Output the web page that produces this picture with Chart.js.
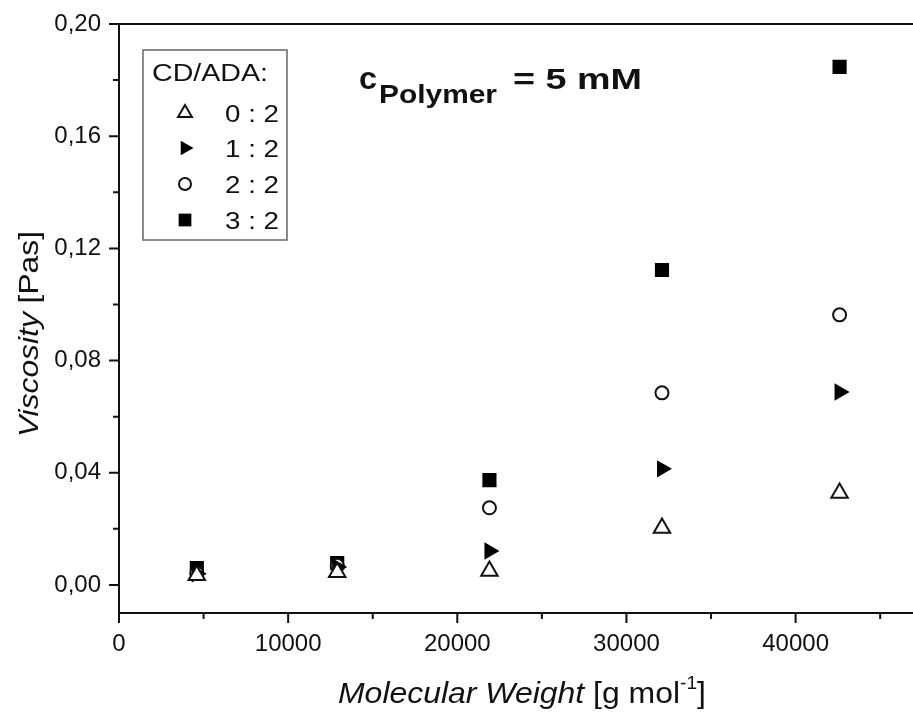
<!DOCTYPE html>
<html>
<head>
<meta charset="utf-8">
<script src="https://cdn.jsdelivr.net/npm/chart.js@4.4.1/dist/chart.umd.min.js"></script>
<style>
  html, body { margin: 0; padding: 0; background: #fff; }
  #wrap { width: 913px; height: 714px; }
</style>
</head>
<body>
<div id="wrap"><canvas id="chart" width="913" height="714"></canvas></div>
<script>
// values
const molWeight = [4600, 12900, 21900, 32100, 42600];
const visc02 = [0.0035, 0.0045, 0.0050, 0.0203, 0.0328];
const visc12 = [0.0040, 0.0064, 0.0121, 0.0414, 0.0688];
const visc22 = [0.0042, 0.0070, 0.0275, 0.0685, 0.0963];
const visc32 = [0.0060, 0.0078, 0.0374, 0.1123, 0.1847];
const seriesLabels = ["0 : 2", "1 : 2", "2 : 2", "3 : 2"];

const xTicks = [0, 10000, 20000, 30000, 40000];
const xMinorTicks = [5000, 15000, 25000, 35000, 45000];
const yTicks = [0, 0.04, 0.08, 0.12, 0.16, 0.2];
const yMinorTicks = [0.02, 0.06, 0.1, 0.14, 0.18];

const FONT = "'Liberation Sans', Arial, sans-serif";
const INK = "#111";

function toPoints(ys) {
  return molWeight.map((x, i) => ({ x: x, y: ys[i] }));
}

// marker shapes, same geometry as chart.js uses
function marker(ctx, style, x, y, r) {
  ctx.save();
  ctx.lineWidth = 2;
  ctx.strokeStyle = INK;
  ctx.beginPath();
  if (style === "openTri") {
    for (let k = 0; k < 3; k++) {
      const a = k * 2 * Math.PI / 3;
      const px = x + Math.sin(a) * r, py = y - Math.cos(a) * r;
      k ? ctx.lineTo(px, py) : ctx.moveTo(px, py);
    }
    ctx.closePath();
    ctx.fillStyle = "#fff"; ctx.fill(); ctx.stroke();
  } else if (style === "rightTri") {
    for (let k = 0; k < 3; k++) {
      const a = Math.PI / 2 + k * 2 * Math.PI / 3;
      const px = x + Math.sin(a) * r, py = y - Math.cos(a) * r;
      k ? ctx.lineTo(px, py) : ctx.moveTo(px, py);
    }
    ctx.closePath();
    ctx.fillStyle = "#000"; ctx.fill();
  } else if (style === "circle") {
    ctx.arc(x, y, r, 0, Math.PI * 2);
    ctx.fillStyle = "#fff"; ctx.fill(); ctx.stroke();
  } else {
    const s = r * Math.SQRT1_2;
    ctx.fillStyle = "#000";
    ctx.fillRect(x - s, y - s, 2 * s, 2 * s);
  }
  ctx.restore();
}

// draws a run of text pieces, squeezed/stretched to a target width
function textRun(ctx, parts, x, y, align, width) {
  let total = 0;
  parts.forEach(p => { ctx.font = p.font; p.w = ctx.measureText(p.t).width; total += p.w; });
  const k = width ? width / total : 1;
  const w = total * k;
  const x0 = align === "center" ? x - w / 2 : align === "right" ? x - w : x;
  ctx.save();
  ctx.translate(x0, y);
  ctx.scale(k, 1);
  ctx.fillStyle = INK;
  ctx.textAlign = "left";
  ctx.textBaseline = "alphabetic";
  let cx = 0;
  parts.forEach(p => {
    ctx.font = p.font;
    ctx.fillText(p.t, cx, p.dy || 0);
    cx += p.w;
  });
  ctx.restore();
}

const framePlugin = {
  id: "frame",
  beforeDatasetsDraw(chart) {
    const { ctx, chartArea: a, scales } = chart;
    const x = scales.x, y = scales.y;
    const edge = chart.width + 2;
    ctx.save();
    ctx.strokeStyle = INK;
    ctx.lineWidth = 2;
    ctx.beginPath();
    ctx.moveTo(edge, a.top);
    ctx.lineTo(a.left, a.top);
    ctx.lineTo(a.left, a.bottom);
    ctx.lineTo(edge, a.bottom);
    ctx.stroke();
    ctx.beginPath();
    xTicks.forEach(v => { const p = x.getPixelForValue(v); ctx.moveTo(p, a.bottom); ctx.lineTo(p, a.bottom + 10); });
    xMinorTicks.forEach(v => { const p = x.getPixelForValue(v); ctx.moveTo(p, a.bottom); ctx.lineTo(p, a.bottom + 6); });
    yTicks.forEach(v => { const p = y.getPixelForValue(v); ctx.moveTo(a.left, p); ctx.lineTo(a.left - 10, p); });
    yMinorTicks.forEach(v => { const p = y.getPixelForValue(v); ctx.moveTo(a.left, p); ctx.lineTo(a.left - 6, p); });
    ctx.stroke();
    ctx.restore();
  },
  afterDraw(chart) {
    const ctx = chart.ctx;

    // legend box
    ctx.save();
    ctx.strokeStyle = "#666";
    ctx.lineWidth = 1.5;
    ctx.strokeRect(143, 50, 144, 190);
    ctx.restore();
    textRun(ctx, [{ t: "CD/ADA:", font: "23px " + FONT }], 152, 81, "left", 116);
    const styles = ["openTri", "rightTri", "circle", "square"];
    const sizes = [8, 8.5, 6, 9];
    const rowY = [113, 148, 184, 220];
    seriesLabels.forEach((lab, i) => {
      marker(ctx, styles[i], 185, rowY[i], sizes[i]);
      textRun(ctx, [{ t: lab, font: "24px " + FONT }], 279, rowY[i] + 9, "right", 54);
    });

    // c_Polymer = 5 mM
    textRun(ctx, [{ t: "c", font: "bold 31px " + FONT }], 359, 89, "left", 18);
    textRun(ctx, [{ t: "Polymer", font: "bold 26px " + FONT }], 379, 103, "left", 118);
    textRun(ctx, [{ t: "= 5 mM", font: "bold 30px " + FONT }], 513, 89, "left", 129);

    // axis titles
    textRun(ctx, [
      { t: "Molecular Weight", font: "italic 30px " + FONT },
      { t: " [g mol", font: "30px " + FONT },
      { t: "-1", font: "18px " + FONT, dy: -14 },
      { t: "]", font: "30px " + FONT }
    ], 522, 703, "center", 368);

    ctx.save();
    ctx.translate(38, 334);
    ctx.rotate(-Math.PI / 2);
    textRun(ctx, [
      { t: "Viscosity", font: "italic 28px " + FONT },
      { t: " [Pas]", font: "28px " + FONT }
    ], 0, 0, "center", 206);
    ctx.restore();
  }
};

const tickFont = { family: FONT, size: 24 };

new Chart(document.getElementById("chart"), {
  type: "scatter",
  data: {
    datasets: [
      {
        label: seriesLabels[0], data: toPoints(visc02),
        pointStyle: "triangle", pointRadius: 9.5, pointHoverRadius: 9.5,
        backgroundColor: "#fff", borderColor: INK, borderWidth: 2
      },
      {
        label: seriesLabels[1], data: toPoints(visc12),
        pointStyle: "triangle", rotation: 90, pointRadius: 10, pointHoverRadius: 10,
        backgroundColor: "#000", borderColor: "#000", borderWidth: 0
      },
      {
        label: seriesLabels[2], data: toPoints(visc22),
        pointStyle: "circle", pointRadius: 6.5, pointHoverRadius: 6.5,
        backgroundColor: "#fff", borderColor: INK, borderWidth: 2
      },
      {
        label: seriesLabels[3], data: toPoints(visc32),
        pointStyle: "rect", pointRadius: 10, pointHoverRadius: 10,
        backgroundColor: "#000", borderColor: "#000", borderWidth: 0
      }
    ]
  },
  options: {
    responsive: false,
    animation: false,
    devicePixelRatio: 1,
    layout: { padding: { top: 24, right: 0, left: 0, bottom: 0 } },
    plugins: { legend: { display: false }, tooltip: { enabled: false } },
    scales: {
      x: {
        type: "linear",
        min: 0,
        max: 46260,
        afterBuildTicks: s => { s.ticks = xTicks.map(v => ({ value: v })); },
        afterFit: s => { s.height = 101; },
        grid: { display: true, drawOnChartArea: false, tickLength: 10, color: "rgba(0,0,0,0)" },
        border: { display: false },
        ticks: { font: tickFont, color: INK, padding: 7, maxRotation: 0, autoSkip: false, callback: v => String(v) }
      },
      y: {
        type: "linear",
        min: -0.01,
        max: 0.2,
        afterBuildTicks: s => { s.ticks = yTicks.map(v => ({ value: v })); },
        afterFit: s => { s.width = 119; },
        grid: { display: true, drawOnChartArea: false, tickLength: 10, color: "rgba(0,0,0,0)" },
        border: { display: false },
        ticks: { font: tickFont, color: INK, padding: 8, autoSkip: false, callback: v => v.toFixed(2).replace(".", ",") }
      }
    }
  },
  plugins: [framePlugin]
});
</script>
</body>
</html>
